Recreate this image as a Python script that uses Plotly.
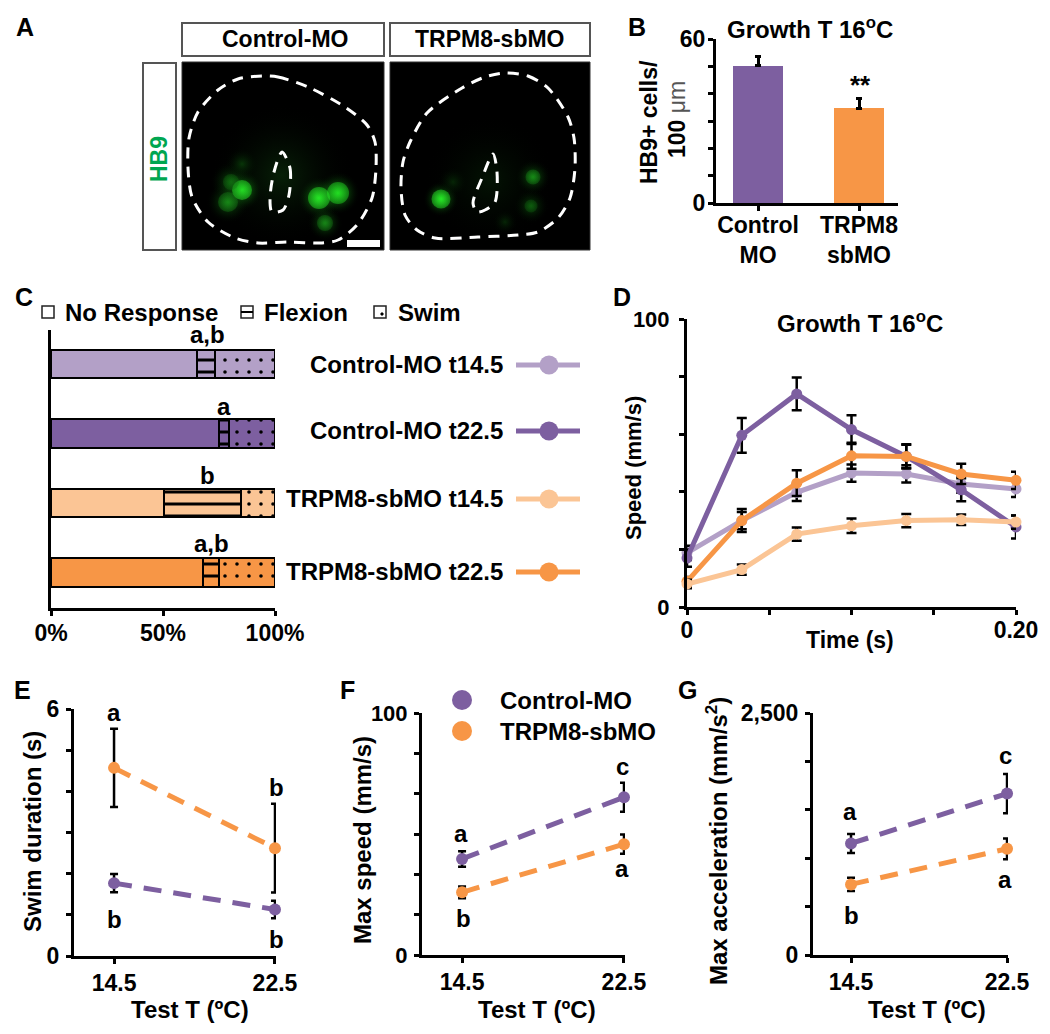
import plotly.graph_objects as go

W, H = 1050, 1034
FONT = "Liberation Sans"
PURPLE, LPURPLE, ORANGE, LORANGE = "#7D5FA0", "#B3A0C7", "#F79646", "#FBC595"

# Panel B
b_labels = ["Control<br>MO", "TRPM8<br>sbMO"]
b_values = [50.3, 34.7]
b_errors = [3.3, 3.4]

# Panel C
c_groups = ["Control-MO t14.5", "Control-MO t22.5", "TRPM8-sbMO t14.5", "TRPM8-sbMO t22.5"]
c_no_response = [65.2, 75.0, 50.3, 67.8]
c_flexion = [7.8, 4.5, 34.4, 7.1]
c_swim = [27.0, 20.5, 15.3, 25.1]
c_colors = [LPURPLE, PURPLE, LORANGE, ORANGE]
c_letters = ["a,b", "a", "b", "a,b"]

# Panel D
d_time = [0, 0.0333, 0.0667, 0.10, 0.1333, 0.1667, 0.20]
d_ctrl_145 = [18.8, 30.0, 39.8, 46.5, 46.2, 42.7, 41.0]
d_ctrl_145_err = [2.5, 3.0, 3.0, 3.0, 3.0, 3.0, 2.8]
d_ctrl_225 = [17.0, 59.6, 74.0, 61.6, 52.3, 40.7, 27.8]
d_ctrl_225_err = [3.0, 6.0, 5.7, 5.0, 4.0, 4.0, 4.0]
d_trpm_145 = [8.0, 13.0, 25.3, 28.2, 30.0, 30.3, 29.5]
d_trpm_145_err = [1.5, 1.8, 2.3, 2.5, 2.3, 1.8, 2.3]
d_trpm_225 = [8.9, 30.0, 43.0, 52.5, 52.3, 46.2, 44.0]
d_trpm_225_err = [1.5, 4.0, 4.5, 4.5, 4.2, 3.5, 3.0]

# Panels E, F, G
test_t = [14.5, 22.5]
e_ctrl, e_ctrl_err = [1.77, 1.13], [0.22, 0.21]
e_trpm, e_trpm_err = [4.57, 2.62], [0.95, 1.08]
f_ctrl, f_ctrl_err = [39.7, 65.2], [3.2, 6.0]
f_trpm, f_trpm_err = [25.9, 45.8], [2.4, 4.0]
g_ctrl, g_ctrl_err = [1152, 1668], [98, 203]
g_trpm, g_trpm_err = [729, 1097], [69, 107]

# Panel A: micrograph sketch, in picture pixels
a_ctrl_outline_x = [262, 278, 308, 345, 367, 375, 376, 372, 357, 338, 322, 288, 258, 235, 208, 192, 188, 189, 198, 218, 238, 262]
a_ctrl_outline_y = [76, 77, 87, 107, 125, 142, 168, 198, 225, 240, 243, 242, 243, 238, 222, 197, 168, 138, 112, 90, 79, 76]
a_ctrl_inner_x = [282, 290, 289, 283, 272, 270, 274, 282]
a_ctrl_inner_y = [152, 168, 195, 210, 212, 198, 172, 152]
a_trpm_outline_x = [505, 528, 548, 568, 574, 575, 570, 558, 538, 518, 478, 435, 417, 405, 401, 403, 410, 427, 462, 485, 505]
a_trpm_outline_y = [73, 76, 88, 117, 138, 168, 198, 218, 232, 235, 237, 238, 230, 215, 188, 162, 142, 113, 88, 77, 73]
a_trpm_inner_x = [493, 497, 495, 485, 477, 473, 482, 493]
a_trpm_inner_y = [154, 172, 202, 210, 212, 203, 178, 154]
a_haze_x = [282, 490]
a_haze_y = [175, 180]
a_haze_size = [145, 135]
a_haze_color = ["#0A2E0A", "#051C05"]
a_glow_x = [242, 319, 338, 228, 231, 325, 242, 441, 533, 531, 453, 505]
a_glow_y = [190, 198, 193, 202, 182, 223, 164, 199, 177, 206, 182, 222]
a_glow_size = [42, 44, 44, 44, 42, 36, 34, 36, 36, 36, 32, 26]
a_glow_color = ["#22FF22", "#22FF22", "#22FF22", "#148F14", "#0F7A0F", "#148F14", "#0A4A0A",
                "#22FF22", "#148F14", "#0C5F0C", "#083408", "#083408"]
a_core_x = [242, 319, 338, 228, 231, 325, 441, 533, 531]
a_core_y = [190, 198, 193, 202, 182, 223, 199, 177, 206]
a_core_size = [20, 22, 22, 20, 16, 16, 19, 15, 13]
a_core_color = ["#2CFF2C", "#2CFF2C", "#26EE26", "#1B961B", "#126F12", "#1A921A", "#2CFF2C", "#1A9A1A", "#0F660F"]
a_core_edge = ["rgba(44,255,44,0.55)", "rgba(44,255,44,0.55)", "rgba(38,238,38,0.55)", "rgba(27,150,27,0.4)",
               "rgba(18,111,18,0.4)", "rgba(26,146,26,0.4)", "rgba(44,255,44,0.55)", "rgba(26,154,26,0.4)",
               "rgba(15,102,15,0.4)"]

# Panel F legend and panel C key positions in picture pixels
f_key_names = ["Control-MO", "TRPM8-sbMO"]
f_key_colors = [PURPLE, ORANGE]
f_key_y = [700, 731]
f_key_x = [462, 462]
c_key_y = [365, 431, 499, 572]
c_key_x = [516, 549, 580]


def dom_x(a, b):
    return [a / W, b / W]


def dom_y(top, bottom):
    return [1 - bottom / H, 1 - top / H]


annotations = []
shapes = []


def note(x, y, text, size=24, color="black", angle=0, anchor="center", bold=True):
    annotations.append(dict(
        x=x / W, y=1 - y / H, xref="paper", yref="paper", text=text, showarrow=False,
        textangle=angle, xanchor=anchor, yanchor="middle",
        font=dict(family=FONT, size=size, color=color, weight="bold" if bold else "normal")))


def rect(x0, y0, x1, y1, line="black", lw=1.5, fill="rgba(0,0,0,0)", layer="below"):
    shapes.append(dict(type="rect", xref="paper", yref="paper", x0=x0 / W, x1=x1 / W,
                       y0=1 - y1 / H, y1=1 - y0 / H, line=dict(color=line, width=lw),
                       fillcolor=fill, layer=layer))


def hline(x0, x1, y, lw=1.5):
    shapes.append(dict(type="line", xref="paper", yref="paper", x0=x0 / W, x1=x1 / W,
                       y0=1 - y / H, y1=1 - y / H, line=dict(color="black", width=lw), layer="above"))


def axis(domain, rng, tickvals, ticktext, standoff=2, size=23, **kw):
    return dict(domain=domain, range=rng, tickmode="array", tickvals=tickvals, ticktext=ticktext,
                ticks="outside", ticklen=5, tickwidth=2.5, tickcolor="black", showline=True,
                linecolor="black", linewidth=3, showgrid=False, zeroline=False,
                tickfont=dict(family=FONT, size=size, color="black", weight="bold"),
                ticklabelstandoff=standoff, automargin=False, **kw)


traces = []

# ---------- Panel B ----------
traces.append(go.Bar(x=[0, 1], y=b_values, width=0.5, marker=dict(color=[PURPLE, ORANGE], line=dict(width=0)),
                     error_y=dict(type="data", symmetric=False, array=b_errors, arrayminus=[0, 0],
                                  color="black", thickness=3, width=3),
                     xaxis="x", yaxis="y", showlegend=False))

# ---------- Panel C ----------
c_rows = [(c_no_response, "", "No Response"), (c_flexion, "-", "Flexion"), (c_swim, ".", "Swim")]
for vals, shape, name in c_rows:
    for group, val, col in zip(c_groups, vals, c_colors):
        pat = dict(shape=shape, fgcolor="black", bgcolor=col, fgopacity=1)
        if shape == "-":
            pat.update(size=12, solidity=0.25)
        if shape == ".":
            pat.update(size=12, solidity=0.07)
        traces.append(go.Bar(y=[group], x=[val], orientation="h", width=0.41, name=name,
                             marker=dict(color=col, line=dict(color="black", width=2.5), pattern=pat),
                             xaxis="x2", yaxis="y2", showlegend=False))

# ---------- Panel D ----------
d_series = [(d_ctrl_145, d_ctrl_145_err, LPURPLE, "Control-MO t14.5"),
            (d_ctrl_225, d_ctrl_225_err, PURPLE, "Control-MO t22.5"),
            (d_trpm_225, d_trpm_225_err, ORANGE, "TRPM8-sbMO t22.5"),
            (d_trpm_145, d_trpm_145_err, LORANGE, "TRPM8-sbMO t14.5")]
for vals, errs, col, name in d_series:
    traces.append(go.Scatter(x=d_time, y=vals, mode="lines+markers", name=name, cliponaxis=False,
                             line=dict(color=col, width=5), marker=dict(color=col, size=11),
                             error_y=dict(type="data", array=errs, color="black", thickness=2.5, width=5),
                             xaxis="x3", yaxis="y3", showlegend=False))

# ---------- Panels E, F, G ----------
for suffix, rows in (("4", [(e_trpm, e_trpm_err, ORANGE), (e_ctrl, e_ctrl_err, PURPLE)]),
                     ("5", [(f_trpm, f_trpm_err, ORANGE), (f_ctrl, f_ctrl_err, PURPLE)]),
                     ("6", [(g_trpm, g_trpm_err, ORANGE), (g_ctrl, g_ctrl_err, PURPLE)])):
    for vals, errs, col in rows:
        traces.append(go.Scatter(x=test_t, y=vals, mode="lines+markers", cliponaxis=False,
                                 line=dict(color=col, width=5, dash="18px,12px"),
                                 marker=dict(color=col, size=12),
                                 error_y=dict(type="data", array=errs, color="black", thickness=2.5, width=4),
                                 xaxis="x" + suffix, yaxis="y" + suffix, showlegend=False))

# ---------- Pixel overlay: micrographs and keys ----------
traces.append(go.Scatter(x=a_haze_x, y=a_haze_y, mode="markers", xaxis="x7", yaxis="y7", showlegend=False,
                         marker=dict(size=a_haze_size, color="rgba(0,0,0,0)", line=dict(width=0),
                                     gradient=dict(type="radial", color=a_haze_color))))
traces.append(go.Scatter(x=a_glow_x, y=a_glow_y, mode="markers", xaxis="x7", yaxis="y7", showlegend=False,
                         marker=dict(size=a_glow_size, color="rgba(0,0,0,0)", line=dict(width=0),
                                     gradient=dict(type="radial", color=a_glow_color))))
traces.append(go.Scatter(x=a_core_x, y=a_core_y, mode="markers", xaxis="x7", yaxis="y7", showlegend=False,
                         marker=dict(size=a_core_size, color=a_core_edge, line=dict(width=0),
                                     gradient=dict(type="radial", color=a_core_color))))
for xs, ys in ((a_ctrl_outline_x, a_ctrl_outline_y), (a_ctrl_inner_x, a_ctrl_inner_y),
               (a_trpm_outline_x, a_trpm_outline_y), (a_trpm_inner_x, a_trpm_inner_y)):
    traces.append(go.Scatter(x=xs, y=ys, mode="lines", xaxis="x7", yaxis="y7", showlegend=False,
                             line=dict(color="white", width=3, dash="11px,8px", shape="spline", smoothing=0.8)))
for y, col in zip(c_key_y, c_colors):
    traces.append(go.Scatter(x=c_key_x, y=[y] * 3, mode="lines", xaxis="x7", yaxis="y7", showlegend=False,
                             line=dict(color=col, width=5)))
    traces.append(go.Scatter(x=c_key_x[1:2], y=[y], mode="markers", xaxis="x7", yaxis="y7", showlegend=False,
                             marker=dict(color=col, size=19)))
traces.append(go.Scatter(x=f_key_x, y=f_key_y, mode="markers", xaxis="x7", yaxis="y7", showlegend=False,
                         marker=dict(color=f_key_colors, size=20)))

# ---------- Panel A furniture ----------
rect(182, 62, 384, 250, line="#333333", lw=1, fill="black")
rect(390, 62, 590, 250, line="#333333", lw=1, fill="black")
rect(182, 23, 384, 56, line="#555555", lw=2)
rect(390, 23, 590, 56, line="#555555", lw=2)
rect(143, 63, 176, 250, line="#555555", lw=2)
rect(347, 240, 380, 247, line="white", lw=0, fill="white", layer="above")
note(285, 39, "Control-MO", 23)
note(490, 39, "TRPM8-sbMO", 23)
note(159, 159, "HB9", 23, color="#00A651", angle=-90)

# Panel letters
for x, y, t in ((25, 27, "A"), (637, 27, "B"), (24, 297, "C"), (622, 297, "D"),
                (22, 690, "E"), (347, 690, "F"), (687, 690, "G")):
    note(x, y, t, 25)

# Panel B text
note(810, 28, "Growth T 16<sup>o</sup>C", 24)
note(649, 122, "HB9+ cells/", 23, angle=-90)
note(677, 120, '100 <span style="font-weight:normal;fill:#555555">μm</span>', 23, angle=-90)
note(860, 85, "**", 26)

# Panel C text
for x, t in ((63, "No Response"), (262, "Flexion"), (396, "Swim")):
    note(x, 312, t, 24, anchor="left")
rect(42, 306, 54, 318, line="#222222", lw=1.5, fill="white")
rect(241, 306, 253, 318, line="#222222", lw=1.5, fill="white")
hline(241, 253, 312, 2)
rect(374, 306, 386, 318, line="#222222", lw=1.5, fill="white")
rect(381, 313, 383, 315, line="black", lw=1, fill="black", layer="above")
for x, y, t in ((207, 334, c_letters[0]), (224, 406, c_letters[1]), (207, 475, c_letters[2]), (211, 543, c_letters[3])):
    note(x, y, t, 24)
for y, g in zip(c_key_y, c_groups):
    note(505, y - 1, g, 24, anchor="right")

# Panel D text
note(860, 322, "Growth T 16<sup>o</sup>C", 24)
note(633, 468, "Speed (mm/s)", 22, angle=-90)
note(850, 640, "Time (s)", 23)

# Panels E, F, G text
note(32, 832, "Swim duration (s)", 24, angle=-90)
note(190, 1009, "Test T (ºC)", 24)
for x, y, t in ((114, 712, "a"), (276, 787, "b"), (114, 919, "b"), (276, 939, "b")):
    note(x, y, t, 24)
note(362, 840, "Max speed (mm/s)", 24, angle=-90)
note(537, 1009, "Test T (ºC)", 24)
for x, y, t in ((461, 833, "a"), (622, 766, "c"), (463, 918, "b"), (622, 868, "a")):
    note(x, y, t, 24)
note(717, 841, "Max acceleration (mm/s<sup>2</sup>)", 24, angle=-90)
note(927, 1009, "Test T (ºC)", 24)
for x, y, t in ((850, 811, "a"), (1005, 755, "c"), (851, 915, "b"), (1005, 879, "a")):
    note(x, y, t, 24)
for y, t in zip(f_key_y, f_key_names):
    note(498, y, t, 24, anchor="left")

fig = go.Figure(traces)
fig.update_layout(
    width=W, height=H, autosize=False, margin=dict(l=0, r=0, t=0, b=0),
    paper_bgcolor="white", plot_bgcolor="rgba(0,0,0,0)", showlegend=False,
    barmode="stack", bargap=0,
    annotations=annotations, shapes=shapes,
    xaxis=axis(dom_x(716, 898), [-0.416, 1.386], [0, 1], b_labels, standoff=-6, anchor="y"),
    yaxis=axis(dom_y(39, 203), [0, 60], [0, 10, 20, 30, 40, 50, 60], ["0", "", "", "", "", "", "60"], standoff=-2, anchor="x"),
    xaxis2=axis(dom_x(51, 275), [0, 100], [0, 50, 100], ["0%", "50%", "100%"], standoff=-3, anchor="y2"),
    yaxis2=dict(domain=dom_y(330, 608), type="category", range=[3.51, -0.49], showticklabels=False,
                ticks="", showline=True, linecolor="black", linewidth=3, showgrid=False, zeroline=False,
                categoryorder="array", categoryarray=c_groups, anchor="x2"),
    xaxis3=axis(dom_x(687, 1016), [0, 0.2], [0, 0.05, 0.1, 0.15, 0.2], ["0", "", "", "", "0.20"], standoff=-5, anchor="y3"),
    yaxis3=axis(dom_y(319, 607), [0, 100], [0, 20, 40, 60, 80, 100], ["0", "", "", "", "", "100"], standoff=5, size=22, anchor="x3"),
    xaxis4=axis(dom_x(74, 276), [12.51, 22.55], test_t, ["14.5", "22.5"], standoff=-1, anchor="y4"),
    yaxis4=axis(dom_y(709, 956), [0, 6], [0, 1, 2, 3, 4, 5, 6], ["0", "", "", "", "", "", "6"], anchor="x4"),
    xaxis5=axis(dom_x(422, 625), [12.52, 22.55], test_t, ["14.5", "22.5"], standoff=-1, anchor="y5"),
    yaxis5=axis(dom_y(713, 955), [0, 100], [0, 16.67, 33.33, 50, 66.67, 83.33, 100],
                ["0", "", "", "", "", "", "100"], size=22, anchor="x5"),
    xaxis6=axis(dom_x(813, 1008), [12.55, 22.55], test_t, ["14.5", "22.5"], standoff=-1, anchor="y6"),
    yaxis6=axis(dom_y(713, 955), [0, 2500], [0, 500, 1000, 1500, 2000, 2500],
                ["0", "", "", "", "", "2,500"], anchor="x6"),
    xaxis7=dict(domain=[0, 1], range=[0, W], visible=False, anchor="y7"),
    yaxis7=dict(domain=[0, 1], range=[H, 0], visible=False, anchor="x7"),
)
fig.write_html("out.html", config={"displayModeBar": False},
               post_script="document.body.style.margin='0';")
